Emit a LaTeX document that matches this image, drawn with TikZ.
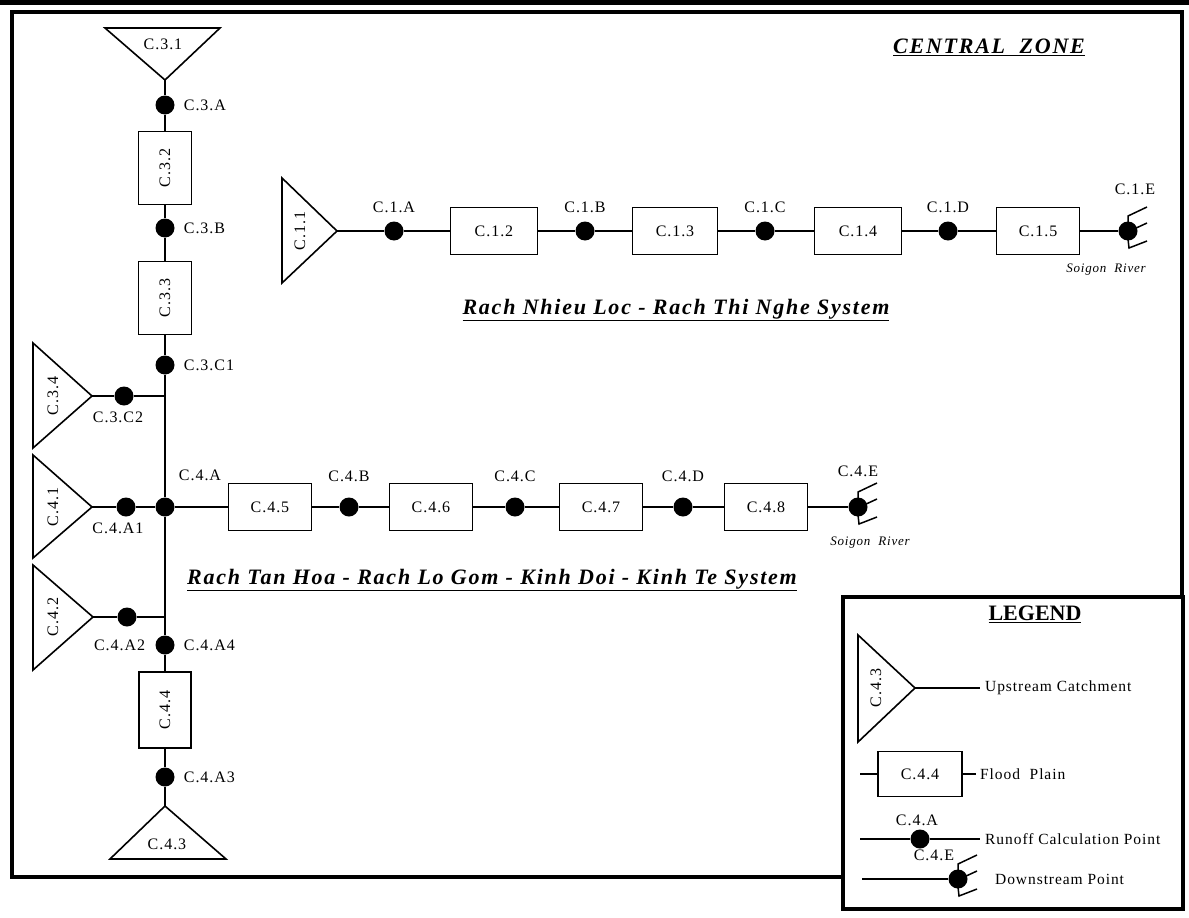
\documentclass[tikz,border=0pt]{standalone}
\usepackage{fontspec}
\setmainfont{Liberation Serif}
\newfontfamily\labfont[LetterSpace=6]{Liberation Serif}
\newfontfamily\ttlfont[LetterSpace=8]{Liberation Serif}
\usetikzlibrary{positioning}

\begin{document}
\begin{tikzpicture}[x=1pt, y=-1pt,
  hbox/.style={draw, line width=1.6pt, minimum width=85pt, minimum height=47pt, inner sep=0pt, font=\labfont\fontsize{16}{16}\selectfont},
  vbox/.style={hbox, rotate=90, minimum width=73pt, minimum height=53pt},
  dot/.style={circle, fill=black, inner sep=0pt, minimum size=19pt},
  lab/.style={inner sep=1pt, font=\labfont\fontsize{16}{16}\selectfont},
  tri/.style={draw, line width=1.6pt, line join=miter},
  chain/.style={line width=1.4pt},
  trunk/.style={line width=2.6pt},
  ttl/.style={font=\ttlfont\bfseries\itshape\fontsize{22}{22}\selectfont},
  river/.style={inner sep=0pt, font=\labfont\itshape\fontsize{13}{13}\selectfont},
  legtxt/.style={anchor=west, inner sep=0pt, font=\labfont\fontsize{15.5}{16}\selectfont},
  outlet/.pic={\draw[line width=1.5pt] (0,-8) -- (0,-15) -- (19,-24) (6,-2) -- (19,-8) (0,8) -- (1,17) -- (19,10);}]
\useasboundingbox (0,0) rectangle (1189,918);
% frame
\fill (0,0) rectangle (1189,5);
\draw[line width=3.5pt] (12,12) rectangle (1182,877);

% C.3 trunk
\draw[tri] (105,28) -- (220,28) -- (165,80) coordinate (c31) -- cycle;
\node[lab] at (163,44) {C.3.1};
\node[dot] (c3a) at (165,105) {};
\node[vbox] (c32) at (165,168) {C.3.2};
\node[dot] (c3b) at (165,228) {};
\node[vbox] (c33) at (165,298) {C.3.3};
\node[dot] (c3c1) at (165,365) {};
\coordinate (j34) at (165,396);
\node[dot] (c4a) at (165,507) {};
\coordinate (j42) at (165,617);
\node[dot] (c4a4) at (165,645) {};
\node[vbox, minimum width=76pt, minimum height=52pt] (c44) at (165,710) {C.4.4};
\node[dot] (c4a3) at (165,777) {};
\draw[tri] (110,859) -- (226,859) -- (165,806) coordinate (c43) -- cycle;
\node[lab] at (167,844) {C.4.3};
\draw[trunk] (c31) -- (c3a) -- (c32) -- (c3b) -- (c33) -- (c3c1) -- (c4a) -- (c4a4) -- (c44) -- (c4a3) -- (c43);
\node[lab, right=8pt of c3a] {C.3.A};
\node[lab, right=8pt of c3b] {C.3.B};
\node[lab, right=8pt of c3c1] {C.3.C1};
\node[lab, right=8pt of c4a4] {C.4.A4};
\node[lab, right=8pt of c4a3] {C.4.A3};
\node[lab, left=9pt of c4a4] {C.4.A2};
\node[lab] at (200,475) {C.4.A};

% side catchments
\draw[tri] (33,343) -- (92,396) coordinate (c34) -- (33,448) -- cycle;
\node[lab, rotate=90] at (53,396) {C.3.4};
\node[dot] (c3c2) at (124,396) {};
\draw[chain] (c34) -- (c3c2) -- (j34);
\node[lab, below=5pt of c3c2, xshift=-6pt] {C.3.C2};
\draw[tri] (33,455) -- (92,507) coordinate (c41) -- (33,558) -- cycle;
\node[lab, rotate=90] at (53,507) {C.4.1};
\node[dot] (c4a1) at (126,507) {};
\draw[chain] (c41) -- (c4a1) -- (c4a);
\node[lab, below=5pt of c4a1, xshift=-8pt] {C.4.A1};
\draw[tri] (33,565) -- (93,617) coordinate (c42) -- (33,670) -- cycle;
\node[lab, rotate=90] at (53,617) {C.4.2};
\node[dot] (c4a2) at (127,617) {};
\draw[chain] (c42) -- (c4a2) -- (j42);

% C.4 chain
\node[hbox, minimum width=83pt] (c45) at (270,507) {C.4.5};
\node[dot] (c4b) at (349,507) {};
\node[hbox, minimum width=83pt] (c46) at (431,507) {C.4.6};
\node[dot] (c4c) at (515,507) {};
\node[hbox, minimum width=83pt] (c47) at (601,507) {C.4.7};
\node[dot] (c4d) at (683,507) {};
\node[hbox, minimum width=83pt] (c48) at (766,507) {C.4.8};
\node[dot] (c4e) at (858,507) {};
\pic at (c4e) {outlet};
\draw[chain] (c4a) -- (c45) -- (c4b) -- (c46) -- (c4c) -- (c47) -- (c4d) -- (c48) -- (c4e);
\node[lab, above=14pt of c4b] {C.4.B};
\node[lab, above=14pt of c4c] {C.4.C};
\node[lab, above=14pt of c4d] {C.4.D};
\node[lab, above=19pt of c4e] {C.4.E};
\node[river] at (870,543) {Soigon\ \ River};
\node[ttl] (sys4) at (492,580) {\underline{Rach Tan Hoa - Rach Lo Gom - Kinh Doi - Kinh Te System}};

% C.1 chain
\draw[tri] (282,178) -- (337,231) coordinate (c11) -- (282,283) -- cycle;
\node[lab, rotate=90] at (300,231) {C.1.1};
\node[dot] (c1a) at (394,231) {};
\node[hbox, minimum width=87pt] (c12) at (494,231) {C.1.2};
\node[dot] (c1b) at (585,231) {};
\node[hbox] (c13) at (675,231) {C.1.3};
\node[dot] (c1c) at (765,231) {};
\node[hbox, minimum width=87pt] (c14) at (858,231) {C.1.4};
\node[dot] (c1d) at (948,231) {};
\node[hbox, minimum width=83pt] (c15) at (1038,231) {C.1.5};
\node[dot] (c1e) at (1128,231) {};
\pic at (c1e) {outlet};
\draw[chain] (c11) -- (c1a) -- (c12) -- (c1b) -- (c13) -- (c1c) -- (c14) -- (c1d) -- (c15) -- (c1e);
\node[lab, above=7pt of c1a] {C.1.A};
\node[lab, above=7pt of c1b] {C.1.B};
\node[lab, above=7pt of c1c] {C.1.C};
\node[lab, above=7pt of c1d] {C.1.D};
\node[lab] at (1135,189) {C.1.E};
\node[river] at (1106,270) {Soigon\ \ River};
\node[ttl] (sys1) at (676,310) {\underline{Rach Nhieu Loc - Rach Thi Nghe System}};
\node[ttl] (zone) at (989,47) {\underline{CENTRAL\ \ ZONE}};

% legend
\draw[line width=3.5pt, fill=white] (843,597) rectangle (1183,909);
\node[font=\bfseries\fontsize{22}{22}\selectfont] (leg) at (1035,614) {\underline{LEGEND}};
\draw[tri] (858,635) -- (915,688) coordinate (lg1) -- (858,742) -- cycle;
\node[lab, rotate=90] at (876,688) {C.4.3};
\node[legtxt] (t1) at (985,688) {Upstream Catchment};
\draw[chain, shorten >=5pt] (lg1) -- (t1.west);
\node[hbox, minimum width=84pt, minimum height=45pt] (lg2) at (920,774) {C.4.4};
\coordinate (lg2a) at (860,774);
\node[legtxt] (t2) at (980,774) {Flood\ \ Plain};
\draw[chain, shorten >=4pt] (lg2a) -- (lg2) -- (t2.west);
\node[dot] (lg3) at (920,839) {};
\coordinate (lg3a) at (860,839);
\node[lab, above=2pt of lg3, xshift=-3pt] {C.4.A};
\node[legtxt] (t3) at (985,839) {Runoff Calculation Point};
\draw[chain, shorten >=5pt] (lg3a) -- (lg3) -- (t3.west);
\node[dot] (lg4) at (958,879) {};
\coordinate (lg4a) at (862,879);
\pic at (lg4) {outlet};
\node[lab] at (934,855) {C.4.E};
\node[legtxt] (t4) at (995,879) {Downstream Point};
\draw[chain] (lg4a) -- (lg4);
\end{tikzpicture}
\end{document}
